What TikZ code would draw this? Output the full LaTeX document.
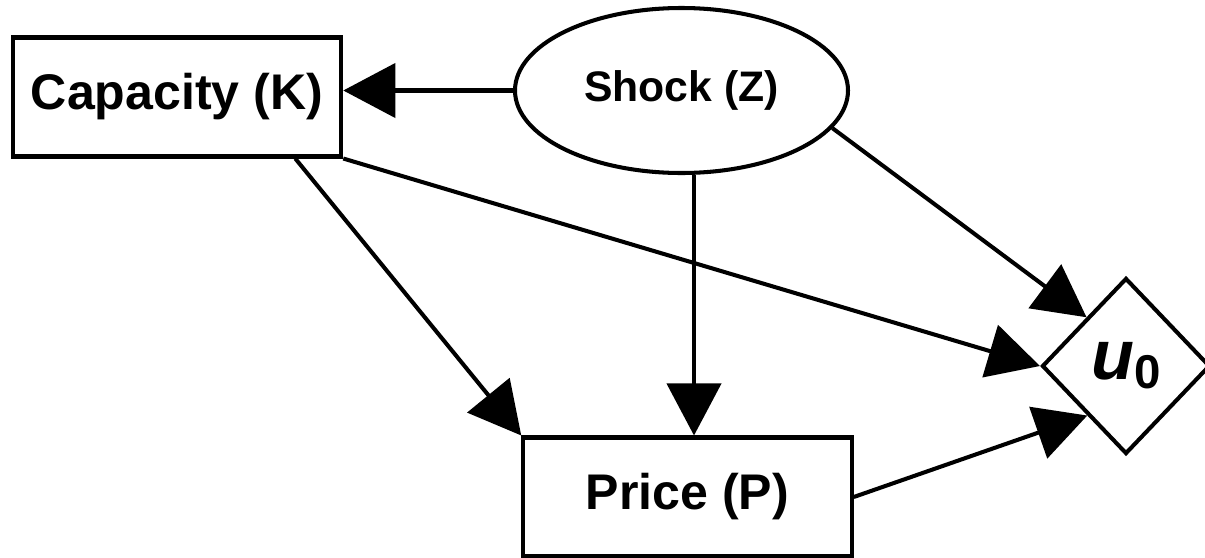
\documentclass[tikz,border=0pt]{standalone}
\usepackage{fontspec}
\setmainfont{Liberation Sans}
\usetikzlibrary{arrows.meta,shapes.geometric}

\begin{document}
\begin{tikzpicture}[line width=2.3pt, font=\bfseries,
    box/.style={draw, rectangle, minimum width=6.57cm, minimum height=2.38cm,
      font=\fontsize{28.5}{32}\selectfont\bfseries},
    arr/.style={-{Triangle[length=1.04cm, width=1.08cm]}}]
  \useasboundingbox (0, 0) rectangle (24.1, -11.14);
  \node[box] (cap) at (3.54, -1.94) {Capacity (K)};
  \node[draw, ellipse, minimum width=6.66cm, minimum height=3.3cm,
    font=\fontsize{24.3}{28}\selectfont\bfseries] (shock) at (13.63, -1.81) {Shock (Z)};
  \node[box] (price) at (13.75, -9.94) {Price (P)};
  \node[draw, diamond, minimum width=3.36cm, minimum height=3.52cm, inner sep=0pt]
    (u) at (22.52, -7.32) {{\fontsize{40}{40}\selectfont\bfseries\itshape u}\raisebox{-5pt}{\fontsize{27}{27}\selectfont\bfseries 0}};
  \draw[arr] (shock.west) -- (shock.west -| cap.east);
  \draw[arr] ([xshift=-0.96cm]cap.south east) -- (price.north west);
  \draw[arr] (cap.south east) -- (u.west);
  \draw[arr] ([xshift=0.25cm]shock.south) -- ([xshift=0.25cm]shock.south |- price.north);
  \draw[arr] (shock.-14.7) -- (u.129);
  \draw[arr] (price.east) -- (u.232);
\end{tikzpicture}
\end{document}
